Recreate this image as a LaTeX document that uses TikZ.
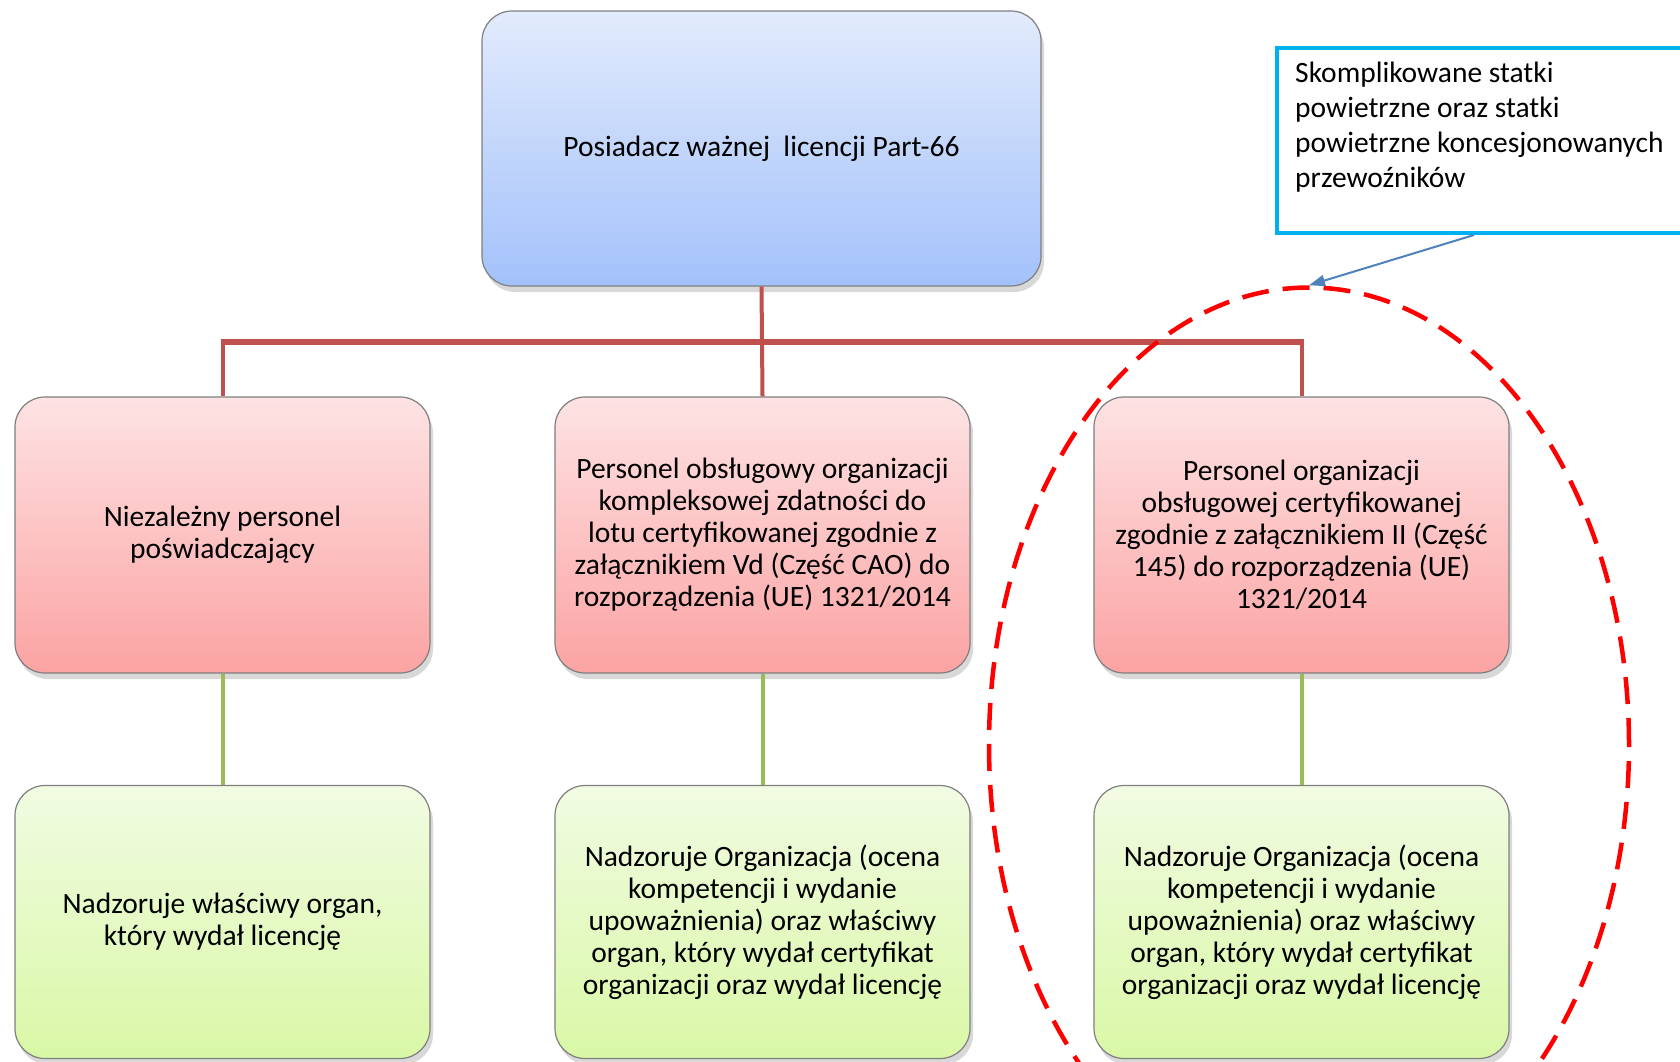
\documentclass[tikz,border=0pt]{standalone}
\usepackage{fontspec}
\setmainfont{Carlito}
\usetikzlibrary{shapes.geometric,shadows,arrows.meta}
\definecolor{boxborder}{HTML}{7F7F7F}
\definecolor{bluetop}{HTML}{E2EBFC}
\definecolor{bluebot}{HTML}{A3C1FA}
\definecolor{pinktop}{HTML}{FDE3E4}
\definecolor{pinkbot}{HTML}{FCA3A3}
\definecolor{greentop}{HTML}{F1FBE2}
\definecolor{greenbot}{HTML}{D9F8A6}
\definecolor{redline}{HTML}{C0504D}
\definecolor{greenline}{HTML}{9BBB59}
\definecolor{callcyan}{HTML}{00B0F0}
\definecolor{arrowblue}{HTML}{4F81BD}
\definecolor{ellred}{HTML}{FF0000}
\begin{document}
\begin{tikzpicture}[x=1pt,y=-1pt,
  box/.style={rounded corners=30pt, draw=boxborder, line width=1.2pt, align=center,
    font=\fontsize{29.5}{32}\selectfont, inner sep=0pt,
    drop shadow={opacity=0.3, shadow xshift=3pt, shadow yshift=-6pt}},
  bluebox/.style={box, top color=bluetop, bottom color=bluebot, minimum width=559pt, minimum height=275pt},
  pinkbox/.style={box, top color=pinktop, bottom color=pinkbot, minimum width=415pt, minimum height=276pt},
  greenbox/.style={box, top color=greentop, bottom color=greenbot, minimum width=415pt, minimum height=273pt},
  redconn/.style={draw=redline, line width=4pt},
  greenconn/.style={draw=greenline, line width=4pt},
  calloutbox/.style={draw=callcyan, line width=4pt, fill=white, inner sep=0pt},
  callouttext/.style={align=left, font=\fontsize{29.5}{35}\selectfont, inner sep=0pt},
  markell/.style={ellipse, draw=ellred, line width=4.5pt, dash pattern=on 27pt off 14pt, inner sep=0pt},
  pointer/.style={draw=arrowblue, line width=2pt, -{Triangle[length=16pt,width=11pt]}}
]
\fill[white] (0,0) rectangle (1680,1061);
\useasboundingbox (0,0) rectangle (1680,1061);
\clip (0,0) rectangle (1680,1061);

\coordinate (bus) at (0,342);

\node[bluebox] (top) at (761.5,148.5) {Posiadacz ważnej\ \ licencji Part-66};

\node[pinkbox] (m1) at (222.5,535) {Niezależny personel\\poświadczający};
\node[pinkbox] (m2) at (762.5,535) {Personel obsługowy organizacji\\kompleksowej zdatności do\\lotu certyfikowanej zgodnie z\\załącznikiem Vd (Część CAO) do\\rozporządzenia (UE) 1321/2014};
\node[pinkbox] (m3) at (1301.5,535) {Personel organizacji\\obsługowej certyfikowanej\\zgodnie z załącznikiem II (Część\\145) do rozporządzenia (UE)\\1321/2014};

\node[greenbox] (b1) at (222.5,922) {Nadzoruje właściwy organ,\\który wydał licencję};
\node[greenbox] (b2) at (762.5,922) {Nadzoruje Organizacja (ocena\\kompetencji i wydanie\\upoważnienia) oraz właściwy\\organ, który wydał certyfikat\\organizacji oraz wydał licencję};
\node[greenbox] (b3) at (1301.5,922) {Nadzoruje Organizacja (ocena\\kompetencji i wydanie\\upoważnienia) oraz właściwy\\organ, który wydał certyfikat\\organizacji oraz wydał licencję};

% red connectors
\draw[redconn] (top.south) -- (m2.north);
\draw[redconn] (m1.north |- bus) -- (m1.north);
\draw[redconn] (m3.north |- bus) -- (m3.north);
\draw[draw=redline, line width=6pt] ([xshift=-2pt]m1.north |- bus) -- ([xshift=2pt]m3.north |- bus);

% green connectors
\draw[greenconn] (m1.south) -- (b1.north);
\draw[greenconn] (m2.south) -- (b2.north);
\draw[greenconn] (m3.south) -- (b3.north);

% callout
\node[calloutbox, anchor=north west, minimum width=440pt, minimum height=185pt] (cb) at (1275,46) {};
\node[callouttext, anchor=north west] (ct) at (1295,62) {Skomplikowane statki\\powietrzne oraz statki\\powietrzne koncesjonowanych\\przewoźników};

% dashed ellipse
\node[markell, minimum width=640pt, minimum height=915pt] (ell) at (1309,745) {};

% pointer arrow
\coordinate (cbstart) at ([xshift=199pt]cb.south west);
\draw[pointer] (cbstart) -- (ell.north);
\end{tikzpicture}
\end{document}
